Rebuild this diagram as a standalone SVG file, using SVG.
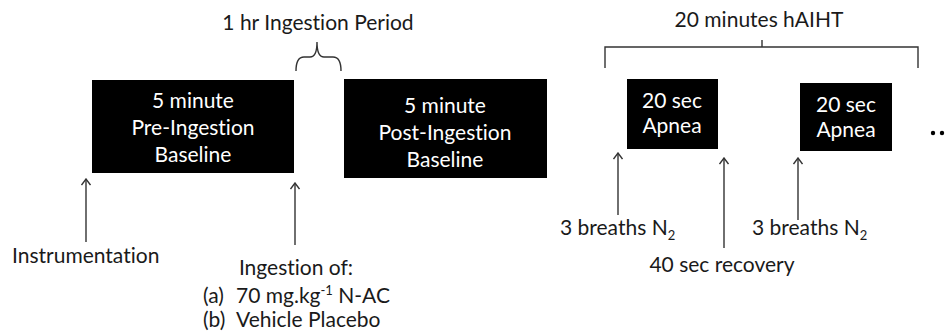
<svg xmlns="http://www.w3.org/2000/svg" width="946" height="335" viewBox="0 0 946 335">
<style>
  .t { font-family: Lato, "Open Sans", "Liberation Sans", sans-serif; font-size: 21px; fill: #1a1a1a; font-variant-ligatures: none; }
  .w { font-family: Lato, "Open Sans", "Liberation Sans", sans-serif; font-size: 21px; fill: #ffffff; text-anchor: middle; font-variant-ligatures: none; }
  .c { text-anchor: middle; }
  .box { fill: #000000; }
  .ln { stroke: #333333; stroke-width: 1.4; fill: none; }
</style>
<defs>
  <marker id="arr" viewBox="0 0 10 10" refX="9" refY="5" markerWidth="10" markerHeight="10" orient="auto" markerUnits="userSpaceOnUse">
    <path d="M3,0.5 L9,5 L3,9.5" fill="none" stroke="#333333" stroke-width="1.4"/>
  </marker>
</defs>
<rect width="946" height="335" fill="#ffffff"/>

<g id="pre-baseline">
  <rect class="box" x="92" y="80" width="202" height="93"/>
  <text class="w" x="193" y="108">5 minute</text>
  <text class="w" x="193" y="135">Pre-Ingestion</text>
  <text class="w" x="193" y="162">Baseline</text>
</g>
<g id="post-baseline">
  <rect class="box" x="344" y="79" width="203" height="99"/>
  <text class="w" x="445" y="113">5 minute</text>
  <text class="w" x="445" y="140">Post-Ingestion</text>
  <text class="w" x="445" y="167">Baseline</text>
</g>
<g id="apnea-1">
  <rect class="box" x="627" y="79" width="91" height="70"/>
  <text class="w" x="672" y="108">20 sec</text>
  <text class="w" x="672" y="133">Apnea</text>
</g>
<g id="apnea-2">
  <rect class="box" x="800" y="83" width="92" height="68"/>
  <text class="w" x="846" y="112">20 sec</text>
  <text class="w" x="846" y="137">Apnea</text>
</g>
<g id="ellipsis">
  <circle cx="933" cy="133" r="2.2" fill="#000"/>
  <circle cx="942" cy="133" r="2.2" fill="#000"/>
</g>

<g id="ingestion-period">
  <text class="t c" x="318" y="30">1 hr Ingestion Period</text>
</g>
<g id="haiht">
  <text class="t c" x="759" y="27">20 minutes hAIHT</text>
</g>
<g id="instrumentation">
  <text class="t" x="12" y="263">Instrumentation</text>
</g>
<g id="ingestion-of">
  <text class="t c" x="296" y="275">Ingestion of:</text>
  <text class="t" x="203" y="303">(a)<tspan x="236">70 mg.kg</tspan><tspan font-size="13" dy="-8">-1</tspan><tspan dy="8"> N-AC</tspan></text>
  <text class="t" x="203" y="327">(b)<tspan x="236">Vehicle Placebo</tspan></text>
</g>
<g id="breaths-1">
  <text class="t" x="560" y="235">3 breaths N<tspan font-size="13" dy="5">2</tspan></text>
</g>
<g id="breaths-2">
  <text class="t" x="752" y="235">3 breaths N<tspan font-size="13" dy="5">2</tspan></text>
</g>
<g id="recovery">
  <text class="t c" x="722" y="272">40 sec recovery</text>
</g>

<g id="connectors">
  <path class="ln" d="M296,71 Q296,57 304,57 L310,57 Q317,57 317,42 Q317,57 324,57 L333,57 Q341,57 341,71"/>
  <path class="ln" d="M605,68 L605,47 L918,47 L918,68 M762,47 L762,40"/>
  <line class="ln" x1="86" y1="242" x2="86" y2="179" marker-end="url(#arr)"/>
  <line class="ln" x1="295" y1="245" x2="295" y2="183" marker-end="url(#arr)"/>
  <line class="ln" x1="618" y1="215" x2="618" y2="153" marker-end="url(#arr)"/>
  <line class="ln" x1="724" y1="248" x2="724" y2="158" marker-end="url(#arr)"/>
  <line class="ln" x1="798" y1="220" x2="798" y2="158" marker-end="url(#arr)"/>
</g>
</svg>
